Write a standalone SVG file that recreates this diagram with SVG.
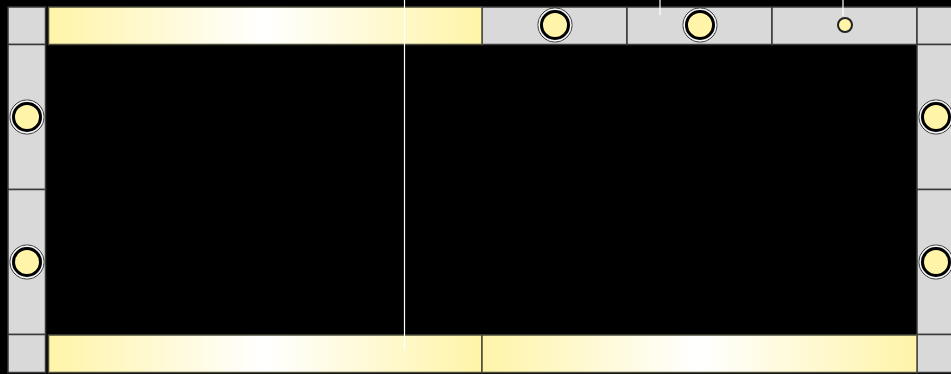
<svg xmlns="http://www.w3.org/2000/svg" width="951" height="374" viewBox="0 0 951 374">
<defs>
<linearGradient id="yg" x1="0" y1="0" x2="1" y2="0">
<stop offset="0" stop-color="#fff4a8"/>
<stop offset="0.5" stop-color="#ffffff"/>
<stop offset="1" stop-color="#fff4a8"/>
</linearGradient>
<g id="big">
<circle r="17" fill="none" stroke="#333" stroke-width="1"/>
<circle r="16" fill="none" stroke="#fff" stroke-width="1"/>
<circle r="13.5" fill="#fff4a8" stroke="#000" stroke-width="3"/>
</g>
</defs>
<style>
.cell{fill:#d9d9d9;stroke:#3a3a3a;stroke-width:1.5}
.bar{fill:url(#yg);stroke:#4a4a3a;stroke-width:1.5}
.wire{stroke:#fff;stroke-width:1.2;fill:none}
</style>
<rect width="951" height="374" fill="#000"/>
<g id="cells">
<rect class="cell" x="8" y="7" width="37.5" height="37.5"/>
<rect class="cell" x="482" y="7" width="145" height="37.5"/>
<rect class="cell" x="627" y="7" width="145" height="37.5"/>
<rect class="cell" x="772" y="7" width="145" height="37.5"/>
<rect class="cell" x="917" y="7" width="40" height="37.5"/>
<rect class="cell" x="8" y="44.5" width="37.5" height="145"/>
<rect class="cell" x="8" y="189.5" width="37.5" height="145"/>
<rect class="cell" x="8" y="334.5" width="37.5" height="38"/>
<rect class="cell" x="917" y="44.5" width="40" height="145"/>
<rect class="cell" x="917" y="189.5" width="40" height="145"/>
<rect class="cell" x="917" y="334.5" width="40" height="38"/>
</g>
<g id="bars">
<rect class="bar" x="48.5" y="7" width="433.5" height="37.5"/>
<rect class="bar" x="48.5" y="335" width="433.5" height="37.5"/>
<rect class="bar" x="482" y="335" width="435" height="37.5"/>
</g>
<g id="connectors">
<line class="wire" x1="404.5" y1="0" x2="404.5" y2="350"/>
<line class="wire" x1="660" y1="0" x2="660" y2="15"/>
<line class="wire" x1="843" y1="0" x2="843" y2="16"/>
</g>
<g id="n1"><use href="#big" x="555" y="25"/></g>
<g id="n2"><use href="#big" x="700" y="25"/></g>
<g id="n3"><circle cx="845" cy="25" r="7" fill="#fff4a8" stroke="#222" stroke-width="2"/></g>
<g id="n4"><use href="#big" x="27" y="117"/></g>
<g id="n5"><use href="#big" x="27" y="262"/></g>
<g id="n6"><use href="#big" x="936" y="117"/></g>
<g id="n7"><use href="#big" x="936" y="262"/></g>
</svg>
